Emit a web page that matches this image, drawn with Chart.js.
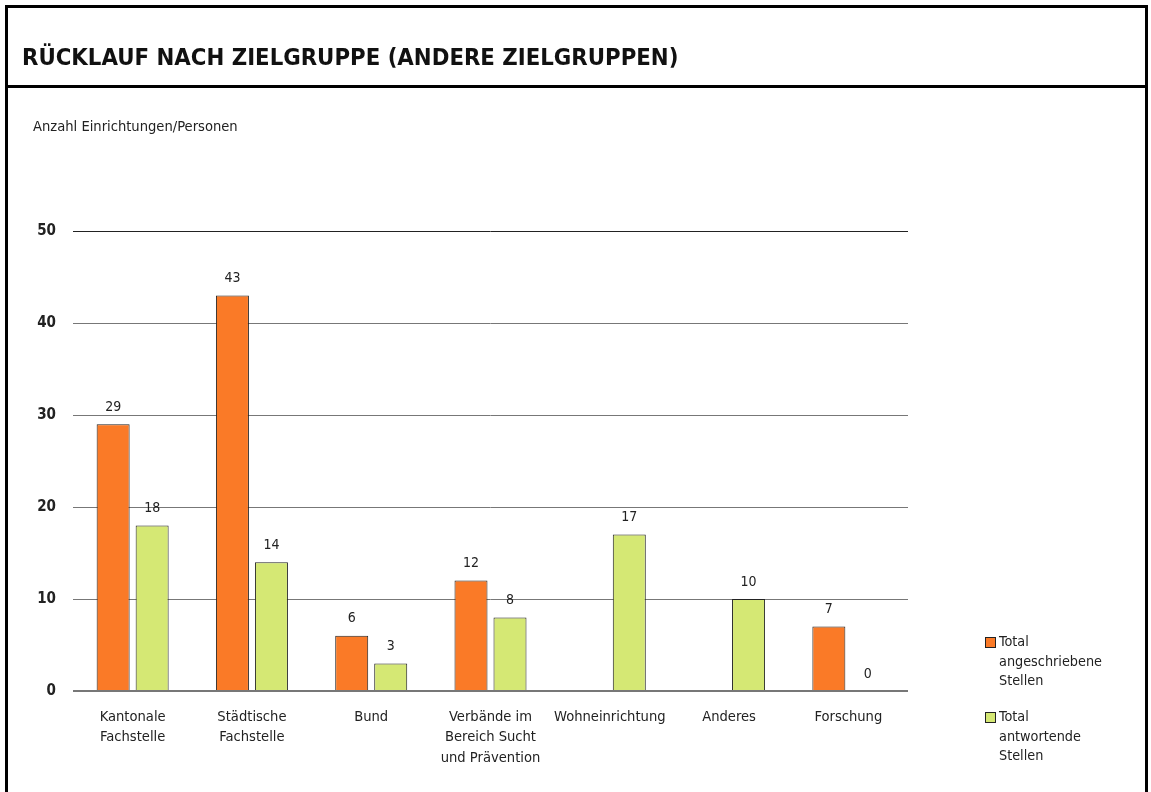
<!DOCTYPE html>
<html><head><meta charset="utf-8">
<script src="https://cdn.jsdelivr.net/npm/chart.js@4"></script>
<style>
html,body{margin:0;padding:0;background:#fff;}
body{width:1151px;height:792px;position:relative;overflow:hidden;font-family:"Liberation Sans Narrow","DejaVu Sans Condensed",sans-serif;color:#222;}
#frame{position:absolute;left:5px;top:5px;width:1137px;height:800px;border:3px solid #000;box-sizing:content-box;}
#titlebox{position:absolute;left:5px;top:5px;width:1140px;height:80px;border-bottom:3px solid #000;}
#title{position:absolute;left:22px;top:42px;font-weight:bold;font-size:23.7px;line-height:30px;white-space:nowrap;color:#111;}
#ytitle{position:absolute;left:33px;top:117px;font-size:14.6px;line-height:18px;white-space:nowrap;}
#c{position:absolute;left:0;top:0;}
.lg{position:absolute;left:985px;font-size:14.3px;line-height:19.5px;}
.lg .sw{position:absolute;left:0;top:5px;width:9px;height:9px;border:1px solid #222;}
.lg .tx{margin-left:14px;}
</style></head><body>
<canvas id="c" width="1151" height="792"></canvas>
<div id="frame"></div>
<div id="titlebox"></div>
<div id="title">RÜCKLAUF NACH ZIELGRUPPE (ANDERE ZIELGRUPPEN)</div>
<div id="ytitle">Anzahl Einrichtungen/Personen</div>
<div class="lg" style="top:632px"><div class="sw" style="background:#FA7A27"></div><div class="tx">Total<br>angeschriebene<br>Stellen</div></div>
<div class="lg" style="top:707px"><div class="sw" style="background:#D5E874"></div><div class="tx">Total<br>antwortende<br>Stellen</div></div>
<script>
const categories = [["Kantonale","Fachstelle"],["Städtische","Fachstelle"],["Bund"],["Verbände im","Bereich Sucht","und Prävention"],["Wohneinrichtung"],["Anderes"],["Forschung"]];
const seriesNames = ["Total angeschriebene Stellen","Total antwortende Stellen"];
const angeschrieben = [29, 43, 6, 12, null, null, 7];
const antwortend = [18, 14, 3, 8, 17, 10, 0];
const yTicks = [0, 10, 20, 30, 40, 50];

const FONT = '"Liberation Sans Narrow","DejaVu Sans Condensed",sans-serif';

const labelPlugin = {
  id: 'vlabels',
  afterDatasetsDraw(chart) {
    const ctx = chart.ctx;
    ctx.save();
    ctx.font = '14px ' + FONT;
    ctx.fillStyle = '#222';
    ctx.textAlign = 'center';
    ctx.textBaseline = 'middle';
    chart.data.datasets.forEach((ds, i) => {
      const meta = chart.getDatasetMeta(i);
      meta.data.forEach((bar, j) => {
        const v = ds.data[j];
        if (v === null || v === undefined) return;
        ctx.fillText(String(v), bar.x, bar.y - 17);
      });
    });
    ctx.restore();
  }
};

new Chart(document.getElementById('c'), {
  type: 'bar',
  data: {
    labels: categories,
    datasets: [
      {label: seriesNames[0], data: angeschrieben, backgroundColor: '#FA7A27', borderColor: '#222', borderWidth: 1, borderSkipped: 'bottom'},
      {label: seriesNames[1], data: antwortend, backgroundColor: '#D5E874', borderColor: '#222', borderWidth: 1, borderSkipped: 'bottom'}
    ]
  },
  options: {
    responsive: false,
    animation: false,
    devicePixelRatio: 1,
    categoryPercentage: 0.654,
    barPercentage: 0.846,
    layout: {padding: {left: 0, right: 243, top: 231, bottom: 0}},
    plugins: {legend: {display: false}, tooltip: {enabled: false}},
    scales: {
      x: {
        grid: {display: false},
        border: {display: false},
        ticks: {color: '#222', font: {family: FONT, size: 14.6, lineHeight: 1.4}, padding: 8, maxRotation: 0, autoSkip: false},
        afterFit(s) { s.height = 101; }
      },
      y: {
        min: 0, max: 50,
        afterBuildTicks(s) { s.ticks = yTicks.map(v => ({value: v})); },
        grid: {
          drawTicks: false,
          color: c => c.tick && c.tick.value === 50 ? '#222' : '#777',
          lineWidth: c => c.tick && c.tick.value === 0 ? 2 : 1
        },
        border: {display: false},
        ticks: {color: '#222', font: {family: FONT, size: 15, weight: 'bold'}, padding: 17},
        afterFit(s) { s.width = 73; }
      }
    }
  },
  plugins: [labelPlugin]
});
</script>
</body></html>
